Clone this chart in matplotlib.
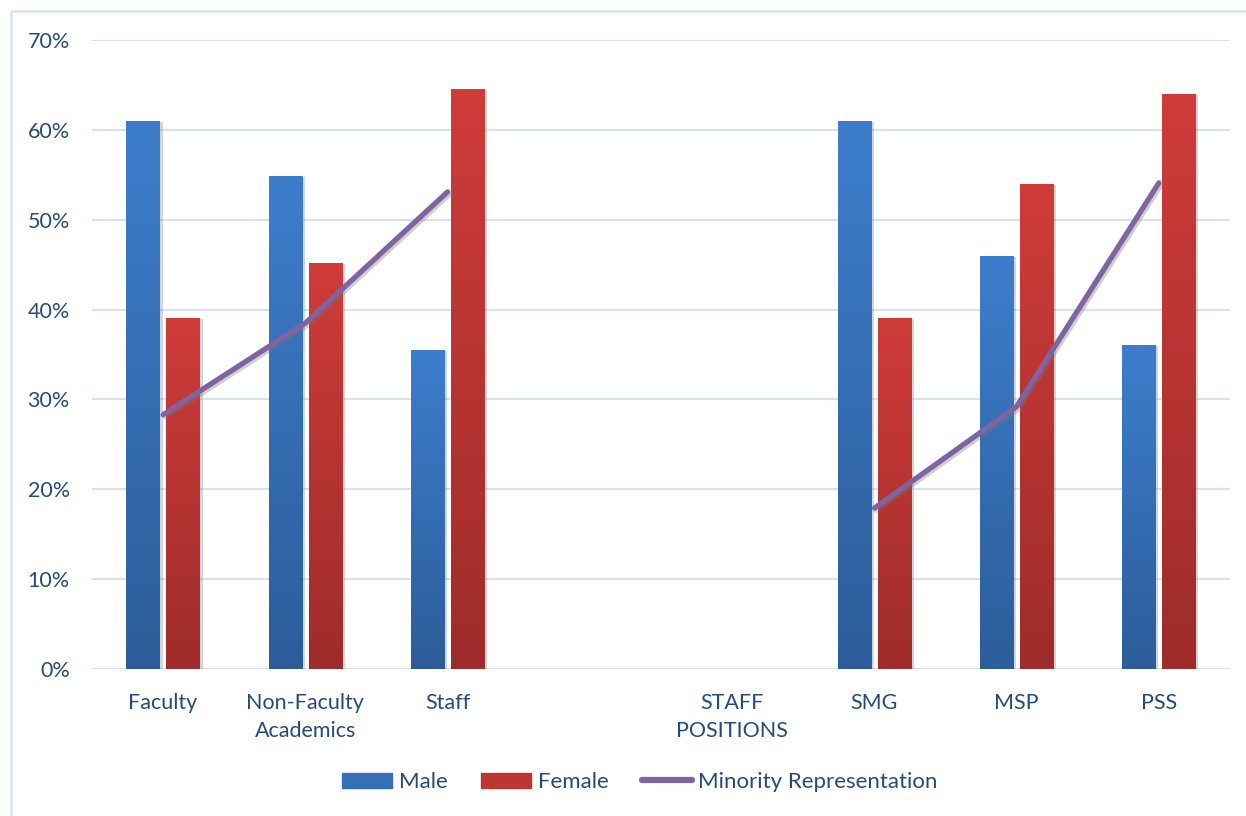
import numpy as np
import matplotlib
matplotlib.use("Agg")
import matplotlib.pyplot as plt
import matplotlib.patheffects as pe
from matplotlib.colors import LinearSegmentedColormap
from matplotlib.patches import Rectangle, Patch
from matplotlib.lines import Line2D

# --- data ---
categories = ["Faculty", "Non-Faculty\nAcademics", "Staff", "",
              "STAFF\nPOSITIONS", "SMG", "MSP", "PSS"]
male = [61.0, 54.9, 35.5, np.nan, np.nan, 61.0, 46.0, 36.1]
female = [39.1, 45.2, 64.5, np.nan, np.nan, 39.1, 54.0, 64.0]
minority = [28.3, 38.5, 53.1, np.nan, np.nan, 17.9, 29.2, 54.1]

plt.rcParams['font.family'] = ['Lato', 'DejaVu Sans']
text_col = '#264b7a'
grid_col = '#d4e2f2'

fig = plt.figure(figsize=(12.46, 8.16), dpi=100)
ax = fig.add_axes([92 / 1246, 1 - 669 / 816, (1230 - 92) / 1246, (669 - 40) / 816])

x = np.arange(len(categories))
w = 0.235
off = 0.141

blue_cm = LinearSegmentedColormap.from_list("b", ["#2c5d9a", "#3d7ecc"])
red_cm = LinearSegmentedColormap.from_list("r", ["#9e2c2a", "#cf3c3a"])
grad = np.linspace(0, 1, 256).reshape(-1, 1)

shadow = [pe.SimplePatchShadow(offset=(2, -1), shadow_rgbFace='#888888', alpha=0.35), pe.Normal()]

def gradient_bars(xs, vals, cmap, color):
    bars = ax.bar(xs, vals, w, color=color, zorder=2, path_effects=shadow)
    for b in bars:
        h = b.get_height()
        if np.isnan(h) or h == 0:
            continue
        bx = b.get_x()
        im = ax.imshow(grad, extent=[bx, bx + b.get_width(), 0, h], origin='lower',
                       cmap=cmap, aspect='auto', zorder=3)
        im.set_clip_path(b)
    return bars

gradient_bars(x - off, male, blue_cm, '#3570b8')
gradient_bars(x + off, female, red_cm, '#bb3533')

ax.plot(x, minority, color='#8064a2', lw=3.8, zorder=4, solid_capstyle='round',
        path_effects=[pe.SimpleLineShadow(offset=(1.5, -1.5), shadow_color='#777777', alpha=0.35),
                      pe.Normal()])

ax.set_xlim(-0.5, len(categories) - 0.5)
ax.set_ylim(0, 70)
ax.set_yticks(np.arange(0, 71, 10))
ax.set_yticklabels([f"{v}%" for v in range(0, 71, 10)])
ax.set_xticks(x)
ax.set_xticklabels(categories)
ax.tick_params(length=0, labelsize=15.5, labelcolor=text_col)
ax.tick_params(axis='y', pad=16)
ax.tick_params(axis='x', pad=17)
for lab in ax.get_xticklabels():
    lab.set_linespacing(1.5)
ax.grid(axis='y', color=grid_col, lw=1.5, zorder=0)
ax.set_axisbelow(True)
for s in ax.spines.values():
    s.set_visible(False)
ax.axhline(0, color=grid_col, lw=1.5, zorder=1)

# outer chart border
fig.add_artist(Rectangle((11 / 1246, -0.05), 1.1, 1 - 11 / 816 + 0.05,
                         transform=fig.transFigure, fill=False,
                         edgecolor='#d6e4f3', lw=1.8))

handles = [Patch(color='#3570b8', label='Male'),
           Patch(color='#bb3533', label='Female'),
           Line2D([0], [0], color='#8064a2', lw=4.5, solid_capstyle='round',
                  label='Minority Representation')]
leg = fig.legend(handles=handles, loc='center', bbox_to_anchor=(640 / 1246, 1 - 782 / 816),
                 ncol=3, frameon=False, fontsize=16, handlelength=2.25, handleheight=0.65,
                 handletextpad=0.3, columnspacing=1.5)
for t in leg.get_texts():
    t.set_color(text_col)

fig.savefig("out.png", dpi=100)
